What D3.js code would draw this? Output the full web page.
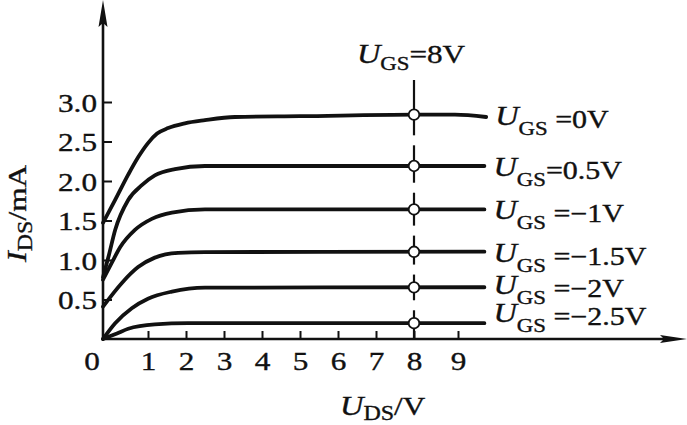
<!DOCTYPE html>
<html><head><meta charset="utf-8">
<script src="https://cdn.jsdelivr.net/npm/d3@7"></script>
<style>
html,body{margin:0;padding:0;background:#fff;}
svg{display:block;background:#fff;}
text{font-family:"Liberation Serif","Times New Roman",serif;fill:#111;white-space:pre;stroke:#111;stroke-width:0.35px;}
</style></head><body>
<svg id="c" width="687" height="425"></svg>
<script>
// ---------- data (U_DS in V, I_DS in mA) ----------
const curveUgs0 = [[0,1.47],[0.27,1.76],[0.56,2.08],[0.78,2.30],[1.0,2.48],[1.24,2.60],[1.53,2.67],[1.97,2.73],[2.5,2.77],[3.29,2.81],[5.0,2.82],[8.0,2.84],[8.93,2.84],[9.64,2.81]];
const curveUgs05 = [[0,0.78],[0.13,1.06],[0.27,1.38],[0.56,1.76],[0.87,1.95],[1.18,2.07],[1.71,2.15],[2.5,2.19],[3.29,2.19],[9.6,2.19]];
const curveUgsM1 = [[0,0.75],[0.2,0.97],[0.38,1.16],[0.71,1.38],[1.1,1.52],[1.63,1.60],[2.5,1.64],[9.6,1.64]];
const curveUgsM15 = [[0,0.41],[0.42,0.71],[0.78,0.91],[1.18,1.03],[1.79,1.09],[2.5,1.10],[9.6,1.105]];
const curveUgsM2 = [[0,0],[0.27,0.2],[0.64,0.39],[1.0,0.51],[1.63,0.6],[2.5,0.65],[9.6,0.655]];
const curveUgsM25 = [[0,0],[0.31,0.07],[0.56,0.13],[1.18,0.185],[2.05,0.2],[9.6,0.2]];
const seriesCurves = [curveUgs0, curveUgs05, curveUgsM1, curveUgsM15, curveUgsM2, curveUgsM25];
const seriesLabels = [" =0V", "=0.5V", " =\u22121V", " =\u22121.5V", " =\u22122V", " =\u22122.5V"];
const xTicks = [1,2,3,4,5,6,7,8,9];
const yTicks = [0.5,1.0,1.5,2.0,2.5,3.0];
const markerUds = 8;
const markerText = "=8V";

// ---------- layout ----------
const ink = "#111";
const SX = 1.2; // horizontal stretch of the typeset text
const svg = d3.select("#c");
const x = d3.scaleLinear().domain([0,1,8,9]).range([103,148,414,458]);
const y = d3.scaleLinear().domain([0,3]).range([339,102]);

function interp(c, v){
  for (let i=1;i<c.length;i++){
    if (v<=c[i][0]){ const t=(v-c[i-1][0])/(c[i][0]-c[i-1][0]); return c[i-1][1]+t*(c[i][1]-c[i-1][1]); }
  }
  return c[c.length-1][1];
}

// ---------- axes ----------
const gx = svg.append("g").attr("transform",`translate(0,${y(0)})`)
  .call(d3.axisBottom(x).tickValues(xTicks).tickSizeInner(-8).tickSizeOuter(0).tickFormat(d3.format("d")));
gx.select(".domain").remove();
gx.selectAll(".tick line").attr("stroke",ink).attr("stroke-width",2);
gx.selectAll(".tick text").attr("y",31).attr("dy",null).attr("font-size",26)
  .attr("fill",ink).attr("transform",`scale(${SX},1)`);

const gy = svg.append("g").attr("transform",`translate(${x(0)},0)`)
  .call(d3.axisLeft(y).tickValues(yTicks).tickSizeInner(-9).tickSizeOuter(0).tickFormat(d3.format(".1f")));
gy.select(".domain").remove();
gy.selectAll(".tick line").attr("stroke",ink).attr("stroke-width",2);
gy.selectAll(".tick text").attr("x",-5).attr("y",9).attr("dy",null).attr("font-size",26)
  .attr("fill",ink).attr("transform",`scale(${SX},1)`);

// origin label
svg.append("text").attr("transform",`translate(${x(0)-11},${y(0)+31}) scale(${SX},1)`)
  .attr("text-anchor","middle").attr("font-size",26).text("0");

// axis lines with arrows
const x0 = x(0), y0 = y(0);
svg.append("line").attr("x1",x0).attr("y1",y0+1).attr("x2",x0).attr("y2",20).attr("stroke",ink).attr("stroke-width",2.6);
svg.append("path").attr("d",`M${x0},0 L${x0+4.5},27 L${x0},23 L${x0-4.5},27 Z`).attr("fill",ink);
svg.append("line").attr("x1",x0-1).attr("y1",y0).attr("x2",668).attr("y2",y0).attr("stroke",ink).attr("stroke-width",2.6);
svg.append("path").attr("d",`M687,${y0} L660,${y0-4} L664,${y0} L660,${y0+4} Z`).attr("fill",ink);

// axis titles
const ty = svg.append("text").attr("transform",`translate(26,262) rotate(-90) scale(${SX},1)`);
ty.append("tspan").attr("font-size",27).attr("font-style","italic").text("I");
ty.append("tspan").attr("font-size",20).attr("dy",6).text("DS");
ty.append("tspan").attr("font-size",26).attr("dy",-6).text("/mA");

const tx = svg.append("text").attr("transform",`translate(340,415) scale(${SX},1)`);
tx.append("tspan").attr("font-size",27).attr("font-style","italic").text("U");
tx.append("tspan").attr("font-size",20).attr("dy",5).text("DS");
tx.append("tspan").attr("font-size",26).attr("dy",-5).text("/V");

// ---------- measurement line at U_DS = 8 ----------
const xm = x(markerUds);
const ys = seriesCurves.map(c => y(interp(c, markerUds)));
const segs = ys.map((yy,i) => {
  const top = i===0 ? 80 : (ys[i-1]+yy)/2 + 5;
  const bot = i===ys.length-1 ? y0 : (yy+ys[i+1])/2 - 5;
  return [top, bot];
});
svg.append("g").selectAll("line").data(segs).join("line")
  .attr("x1",xm).attr("x2",xm).attr("y1",d=>d[0]).attr("y2",d=>d[1])
  .attr("stroke",ink).attr("stroke-width",2.2);

const tm = svg.append("text").attr("transform",`translate(${xm-3},63) scale(${SX},1)`).attr("text-anchor","middle");
tm.append("tspan").attr("font-size",27).attr("font-style","italic").text("U");
tm.append("tspan").attr("font-size",19).attr("dy",7).text("GS");
tm.append("tspan").attr("font-size",26).attr("dy",-7).text(markerText);

// ---------- curves ----------
const line = d3.line().x(d=>x(d[0])).y(d=>y(d[1])).curve(d3.curveMonotoneX);
svg.append("g").selectAll("path").data(seriesCurves).join("path")
  .attr("d",line).attr("fill","none").attr("stroke",ink).attr("stroke-width",3.8)
  .attr("stroke-linecap","round").attr("stroke-linejoin","round");

svg.append("g").selectAll("circle").data(ys).join("circle")
  .attr("cx",xm).attr("cy",d=>d).attr("r",5.3)
  .attr("fill","#fff").attr("stroke",ink).attr("stroke-width",1.8);

// ---------- curve labels ----------
const bases = [];
let limit = y0 - 14;
for (let i=ys.length-1;i>=0;i--){ const b=Math.min(ys[i]+13,limit); bases[i]=b; limit=b-28; }
seriesLabels.forEach((lab,i) => {
  const lastX = x(seriesCurves[i][seriesCurves[i].length-1][0]);
  const t = svg.append("text").attr("transform",`translate(${lastX+9},${bases[i]}) scale(${SX},1)`);
  t.append("tspan").attr("font-size",27).attr("font-style","italic").attr("dy",-3).text("U");
  t.append("tspan").attr("font-size",19).attr("dy",10).text("GS");
  t.append("tspan").attr("font-size",25).attr("dy",-7).text(lab);
});
</script>
</body></html>
